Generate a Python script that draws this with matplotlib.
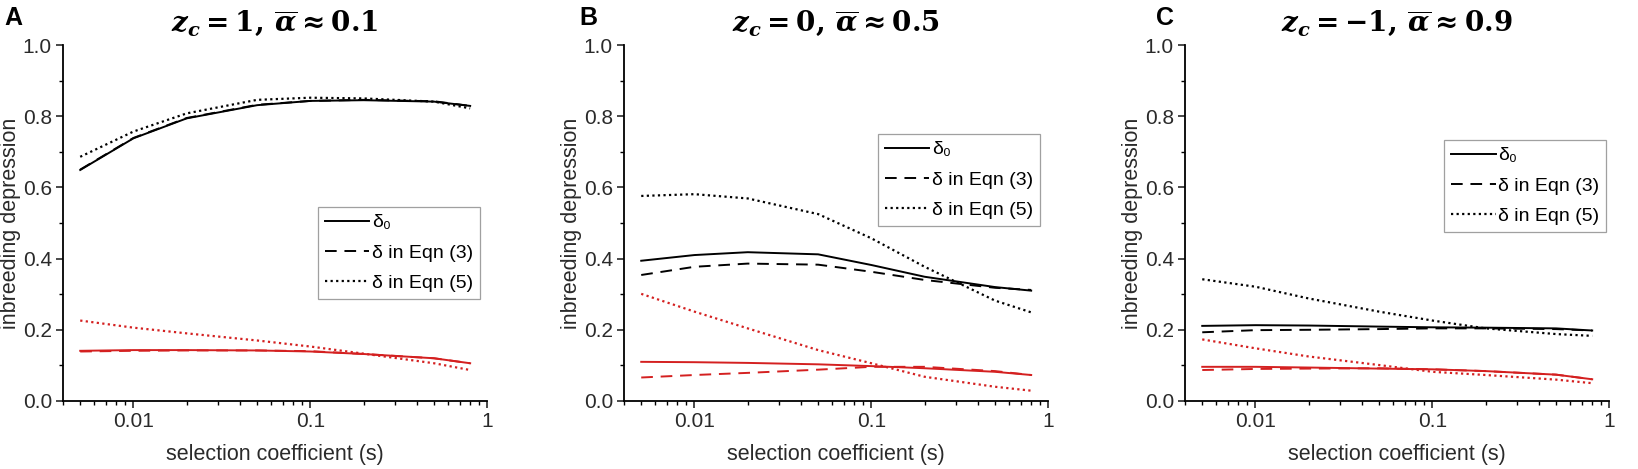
import numpy as np
import matplotlib
matplotlib.use("Agg")
import matplotlib.pyplot as plt
from matplotlib.ticker import LogLocator, MultipleLocator, FixedLocator, NullFormatter

plt.rcParams['font.family'] = ['Liberation Sans', 'DejaVu Sans']
plt.rcParams['mathtext.fontset'] = 'custom'
plt.rcParams['mathtext.rm'] = 'DejaVu Serif:bold'
plt.rcParams['mathtext.it'] = 'DejaVu Serif:italic:bold'
plt.rcParams['mathtext.bf'] = 'DejaVu Serif:bold'

# selection coefficient values
s = [0.005, 0.01, 0.02, 0.05, 0.1, 0.2, 0.5, 0.8]

# panel A  (z_c = 1)
a_black_d0 = [0.649, 0.738, 0.794, 0.831, 0.843, 0.845, 0.841, 0.829]
a_black_e3 = [0.650, 0.739, 0.795, 0.832, 0.843, 0.846, 0.842, 0.829]
a_black_e5 = [0.686, 0.757, 0.808, 0.846, 0.852, 0.850, 0.841, 0.822]
a_red_d0 = [0.141, 0.143, 0.143, 0.142, 0.139, 0.132, 0.120, 0.106]
a_red_e3 = [0.139, 0.141, 0.142, 0.142, 0.140, 0.132, 0.120, 0.106]
a_red_e5 = [0.226, 0.206, 0.190, 0.170, 0.153, 0.133, 0.106, 0.087]

# panel B  (z_c = 0)
b_black_d0 = [0.394, 0.410, 0.418, 0.412, 0.382, 0.349, 0.320, 0.310]
b_black_e3 = [0.354, 0.377, 0.386, 0.383, 0.363, 0.340, 0.318, 0.312]
b_black_e5 = [0.576, 0.581, 0.569, 0.525, 0.457, 0.377, 0.282, 0.249]
b_red_d0 = [0.110, 0.109, 0.107, 0.103, 0.098, 0.092, 0.082, 0.073]
b_red_e3 = [0.066, 0.073, 0.079, 0.088, 0.096, 0.096, 0.084, 0.073]
b_red_e5 = [0.301, 0.251, 0.204, 0.143, 0.106, 0.068, 0.040, 0.029]

# panel C  (z_c = -1)
c_black_d0 = [0.211, 0.213, 0.212, 0.209, 0.207, 0.206, 0.204, 0.198]
c_black_e3 = [0.193, 0.199, 0.200, 0.202, 0.204, 0.204, 0.202, 0.198]
c_black_e5 = [0.342, 0.321, 0.288, 0.251, 0.226, 0.204, 0.188, 0.183]
c_red_d0 = [0.096, 0.096, 0.094, 0.091, 0.089, 0.084, 0.074, 0.061]
c_red_e3 = [0.087, 0.090, 0.091, 0.092, 0.089, 0.084, 0.074, 0.061]
c_red_e5 = [0.173, 0.148, 0.125, 0.101, 0.082, 0.073, 0.060, 0.050]

letters = ['A', 'B', 'C']
titles = [r'$z_c = 1,\, \overline{\alpha} \approx 0.1$',
          r'$z_c = 0,\, \overline{\alpha} \approx 0.5$',
          r'$z_c = -1,\, \overline{\alpha} \approx 0.9$']
panels = [
    (a_black_d0, a_black_e3, a_black_e5, a_red_d0, a_red_e3, a_red_e5),
    (b_black_d0, b_black_e3, b_black_e5, b_red_d0, b_red_e3, b_red_e5),
    (c_black_d0, c_black_e3, c_black_e5, c_red_d0, c_red_e3, c_red_e5),
]
legend_labels = ['δ₀', 'δ in Eqn (3)', 'δ in Eqn (5)']
legend_pos = [(0.983, 0.545), (0.981, 0.75), (0.993, 0.733)]

red = '#d42020'
lefts = [0.0385, 0.381, 0.7235]

fig = plt.figure(figsize=(16.38, 4.69), dpi=100)
for i in range(3):
    ax = fig.add_axes([lefts[i], 0.145, 0.259, 0.759])
    d0, e3, e5, rd0, re3, re5 = panels[i]
    l1, = ax.plot(s, d0, color='black', lw=1.4, ls='-')
    l2, = ax.plot(s, e3, color='black', lw=1.4, ls=(0, (6, 4)))
    l3, = ax.plot(s, e5, color='black', lw=1.6, ls=(0, (1, 1.5)))
    ax.plot(s, rd0, color=red, lw=1.4, ls='-')
    ax.plot(s, re3, color=red, lw=1.4, ls=(0, (6, 4)))
    ax.plot(s, re5, color=red, lw=1.6, ls=(0, (1, 1.5)))

    ax.set_xscale('log')
    ax.set_xlim(0.004, 1)
    ax.set_ylim(0, 1)
    ax.xaxis.set_major_locator(FixedLocator([0.01, 0.1, 1]))
    ax.set_xticklabels(['0.01', '0.1', '1'])
    ax.xaxis.set_minor_locator(LogLocator(base=10, subs=np.arange(2, 10)))
    ax.xaxis.set_minor_formatter(NullFormatter())
    ax.yaxis.set_major_locator(MultipleLocator(0.2))
    ax.yaxis.set_minor_locator(MultipleLocator(0.1))
    ax.yaxis.set_major_formatter(matplotlib.ticker.FormatStrFormatter('%.1f'))
    ax.spines['top'].set_visible(False)
    ax.spines['right'].set_visible(False)
    ax.spines['left'].set_linewidth(1.3)
    ax.spines['bottom'].set_linewidth(1.3)
    ax.tick_params(which='major', direction='out', length=5, width=1.2,
                   labelsize=15, colors='#2a2a2a', pad=3)
    ax.tick_params(which='minor', direction='out', length=3, width=1.0)
    ax.set_xlabel('selection coefficient (s)', fontsize=15.5, color='#2a2a2a', labelpad=9)
    ax.set_ylabel('inbreeding depression', fontsize=15.5, color='#2a2a2a', labelpad=1)
    ax.set_title(titles[i], fontsize=20, pad=10)

    leg = ax.legend([l1, l2, l3], legend_labels, loc='upper right',
                    bbox_to_anchor=legend_pos[i], fontsize=14, frameon=True,
                    fancybox=False, handlelength=2.3, handletextpad=0.15,
                    borderpad=0.35, labelspacing=0.65, borderaxespad=0)
    leg.get_frame().set_edgecolor('#888888')
    leg.get_frame().set_linewidth(0.9)

    fig.text(lefts[i] - 0.036 + 0.009 * i, 0.935, letters[i], fontsize=18,
             fontweight='bold', ha='left', va='bottom')

fig.savefig('out.png', dpi=100)
